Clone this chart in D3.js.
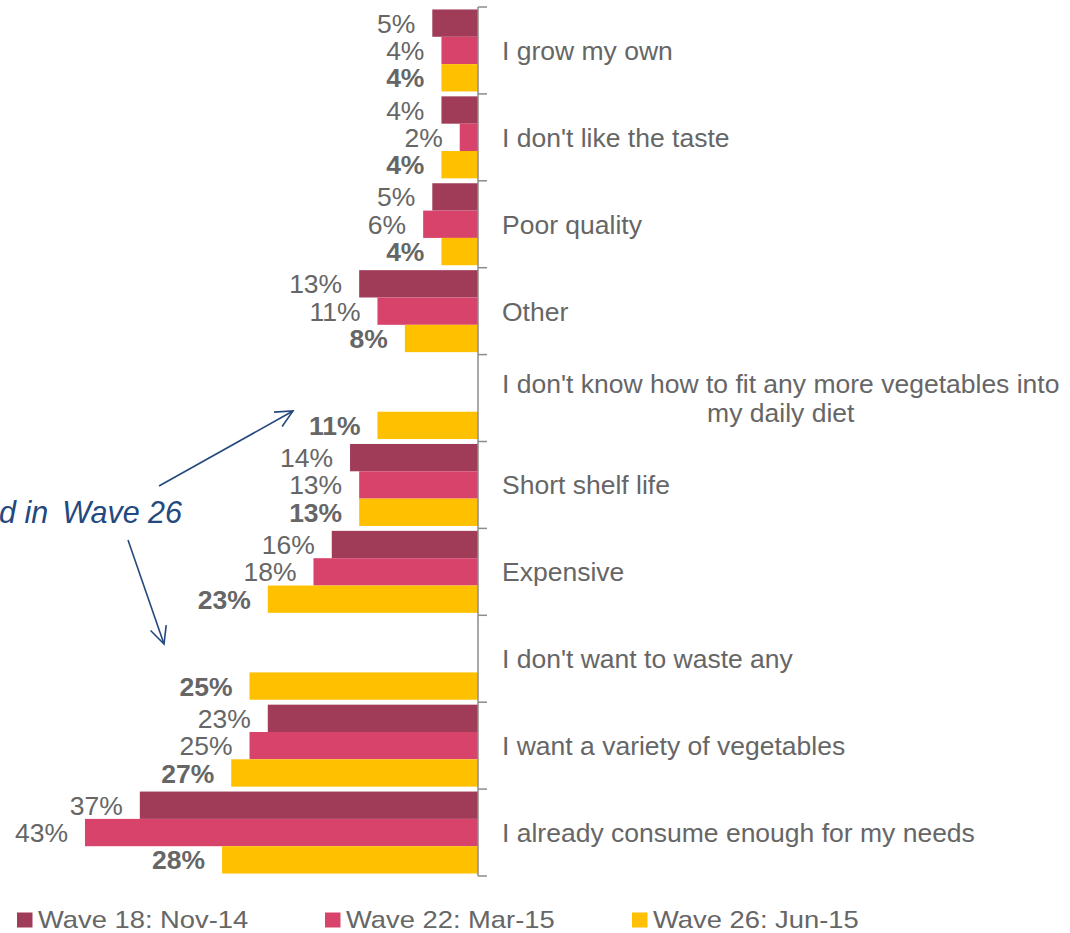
<!DOCTYPE html>
<html>
<head>
<meta charset="utf-8">
<script src="https://cdn.jsdelivr.net/npm/d3@7"></script>
<style>
  html, body { margin: 0; padding: 0; background: #ffffff; }
  svg { display: block; font-family: Arial, "Liberation Sans", sans-serif; }
</style>
</head>
<body>
<svg id="chart" width="1070" height="933"></svg>
<script>
// Reasons for not eating more vegetables, by survey wave (%)
const categories = [
  "I grow my own",
  "I don't like the taste",
  "Poor quality",
  "Other",
  "I don't know how to fit any more vegetables into\nmy daily diet",
  "Short shelf life",
  "Expensive",
  "I don't want to waste any",
  "I want a variety of vegetables",
  "I already consume enough for my needs"
];
const waves = ["Wave 18: Nov-14", "Wave 22: Mar-15", "Wave 26: Jun-15"];
const wave18 = [5, 4, 5, 13, null, 14, 16, null, 23, 37];
const wave22 = [4, 2, 6, 11, null, 13, 18, null, 25, 43];
const wave26 = [4, 4, 4, 8, 11, 13, 23, 25, 27, 28];
const colors = ["#A03C58", "#D8436B", "#FFC000"];
const annotationParts = ["New codes added in", "Wave 26"];

const series = [wave18, wave22, wave26];
const svg = d3.select("#chart");

const x = d3.scaleLinear().domain([0, 50]).range([478, 21]);
const y = d3.scaleBand().domain(categories).range([7, 876]).paddingInner(0).paddingOuter(0);
const ySub = d3.scaleBand().domain(waves).range([0, y.bandwidth()]).paddingInner(0).paddingOuter(0.09);

const textGrey = "#666666";
const fontSize = 26.5;

// bars and value labels
const rows = [];
categories.forEach((c, i) => {
  waves.forEach((w, j) => {
    const v = series[j][i];
    if (v !== null && v !== undefined) rows.push({ c, w, j, v });
  });
});

svg.append("g").selectAll("rect").data(rows).join("rect")
  .attr("x", d => x(d.v))
  .attr("y", d => y(d.c) + ySub(d.w))
  .attr("width", d => x(0) - x(d.v))
  .attr("height", ySub.bandwidth())
  .attr("fill", d => colors[d.j]);

svg.append("g").selectAll("text").data(rows).join("text")
  .attr("x", d => x(d.v) - 17)
  .attr("y", d => y(d.c) + ySub(d.w) + ySub.bandwidth() / 2)
  .attr("dy", "0.36em")
  .attr("text-anchor", "end")
  .attr("font-size", fontSize)
  .attr("font-weight", d => d.j === 2 ? "bold" : "normal")
  .attr("fill", textGrey)
  .text(d => d.v + "%");

// category axis on the right side of the bars
const axisG = svg.append("g");
axisG.append("line")
  .attr("x1", x(0)).attr("x2", x(0))
  .attr("y1", y.range()[0]).attr("y2", y.range()[1])
  .attr("stroke", "#8c8c8c").attr("stroke-width", 1.5);
const boundaries = categories.map(c => y(c)).concat([y.range()[1]]);
axisG.selectAll("line.tick").data(boundaries).join("line")
  .attr("class", "tick")
  .attr("x1", x(0)).attr("x2", x(0) + 9)
  .attr("y1", d => d).attr("y2", d => d)
  .attr("stroke", "#8c8c8c").attr("stroke-width", 1.5);

// category labels
const labelX = 502;
const lineGap = 29;
categories.forEach(c => {
  const lines = c.split("\n");
  const cy = y(c) + y.bandwidth() / 2;
  const t = svg.append("text")
    .attr("font-size", fontSize)
    .attr("fill", textGrey);
  if (lines.length === 1) {
    t.attr("x", labelX).attr("y", cy).attr("dy", "0.36em").text(c);
  } else {
    const spans = lines.map((ln, k) => t.append("tspan")
      .attr("x", labelX)
      .attr("y", cy + (k - (lines.length - 1) / 2) * lineGap)
      .attr("dy", "0.36em")
      .text(ln));
    const widths = spans.map(s => s.node().getComputedTextLength());
    const mid = labelX + d3.max(widths) / 2;
    spans.forEach(s => s.attr("x", mid).attr("text-anchor", "middle"));
  }
});

// annotation with arrows pointing to the new codes
const blue = "#24497E";
const note = svg.append("text")
  .attr("x", 182).attr("y", 523)
  .attr("text-anchor", "end")
  .attr("font-size", 30.5)
  .attr("font-style", "italic")
  .attr("fill", blue);
note.append("tspan").text(annotationParts[0]);
note.append("tspan").attr("dx", 14).text(annotationParts[1]);

function arrow(x1, y1, x2, y2) {
  const g = svg.append("g").attr("stroke", blue).attr("stroke-width", 1.6).attr("fill", "none");
  g.append("line").attr("x1", x1).attr("y1", y1).attr("x2", x2).attr("y2", y2);
  const ang = Math.atan2(y2 - y1, x2 - x1);
  const len = 19, spread = 0.45;
  const p1 = [x2 - len * Math.cos(ang - spread), y2 - len * Math.sin(ang - spread)];
  const p2 = [x2 - len * Math.cos(ang + spread), y2 - len * Math.sin(ang + spread)];
  g.append("path").attr("d", `M${p1[0]},${p1[1]}L${x2},${y2}L${p2[0]},${p2[1]}`);
}
arrow(159, 486, 293, 411);
arrow(128, 540, 164, 644);

// legend
const legendX = [17, 325, 632];
const legend = svg.append("g");
waves.forEach((w, j) => {
  legend.append("rect")
    .attr("x", legendX[j]).attr("y", 912.5)
    .attr("width", 15.5).attr("height", 15)
    .attr("fill", colors[j]);
  legend.append("text")
    .attr("transform", `translate(${legendX[j] + 21},928) scale(1.14,1)`)
    .attr("font-size", 24)
    .attr("fill", textGrey)
    .text(w);
});
</script>
</body>
</html>
